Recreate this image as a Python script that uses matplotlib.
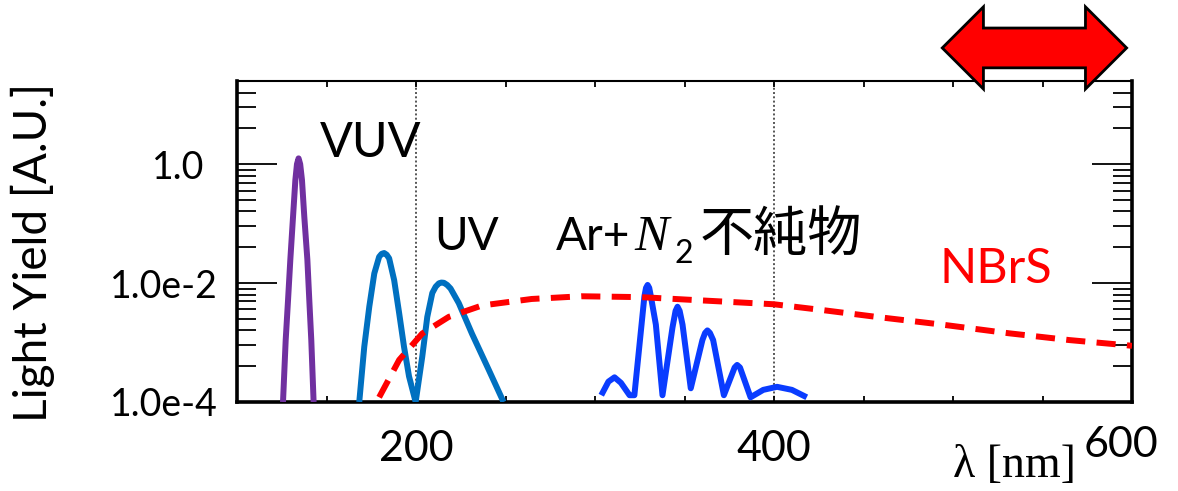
import matplotlib
matplotlib.use('Agg')
import matplotlib.pyplot as plt
from matplotlib.patches import Polygon
from matplotlib.ticker import NullFormatter

W, H = 1178, 491

plt.rcParams['font.family'] = ['Lato', 'Noto Sans CJK JP', 'DejaVu Sans']

# Emission spectra (wavelength in nm, light yield in arbitrary units)
VUV_NM = [125.7, 127.2, 128.5, 129.8, 131.3, 132.6, 133.5, 134.4, 135.3,
          136.3, 137.6, 139.3, 140.4, 141.5, 142.8]
VUV_Y = [1e-4, 1.1e-3, 5.1e-3, 0.025, 0.13, 0.54, 1.0, 1.25, 1.0,
         0.54, 0.13, 0.025, 5.1e-3, 1.1e-3, 1e-4]

UV_NM = [168.3, 171.1, 173.9, 176.7, 179.4, 180.8, 182.2, 183.6, 185.0,
         187.8, 190.6, 193.3, 196.1, 199.8, 203.5, 206.3, 209.1, 211.0,
         212.8, 214.2, 215.6, 217.4, 219.3, 223.9, 231.3, 240.6, 248.9]
UV_Y = [1e-4, 8.5e-4, 4.0e-3, 0.0145, 0.0276, 0.031, 0.032, 0.030, 0.026,
        0.0112, 3.1e-3, 8.5e-4, 2.7e-4, 1.0e-4, 5.8e-4, 2.7e-3, 6.8e-3,
        8.7e-3, 9.9e-3, 0.0102, 0.0101, 9.3e-3, 8.1e-3, 4.6e-3, 1.4e-3,
        3.5e-4, 1e-4]

ARN2_NM = [303.5, 307.5, 310.9, 314.5, 319.3, 322.0, 326.0, 327.6, 328.5,
           329.4, 330.3, 331.2, 334.0, 337.7, 343.3, 345.0, 346.1, 347.3,
           348.9, 353.5, 360.0, 361.5, 362.8, 364.2, 366.0, 372.0, 378.0,
           379.4, 381.0, 386.9, 394.0, 401.7, 410.0, 418.3]
ARN2_Y = [1.3e-4, 2.2e-4, 2.6e-4, 2.1e-4, 1.3e-4, 1.3e-4, 2.0e-3, 6.0e-3,
          8.3e-3, 9.3e-3, 8.3e-3, 6.0e-3, 2.0e-3, 1.3e-4, 1.8e-3, 3.4e-3,
          4.0e-3, 3.4e-3, 2.0e-3, 1.7e-4, 1.1e-3, 1.45e-3, 1.6e-3, 1.45e-3,
          1.1e-3, 1.3e-4, 3.8e-4, 4.2e-4, 3.8e-4, 1.2e-4, 1.6e-4, 1.8e-4,
          1.6e-4, 1.2e-4]

NBRS_NM = [179.4, 190.6, 203.5, 218.3, 236.9, 264.6, 292.4, 325.7, 360.0,
           400.0, 427.6, 457.2, 494.0, 531.3, 565.0, 597.0, 600.0]
NBRS_Y = [1.2e-4, 5.1e-4, 1.42e-3, 2.7e-3, 4.2e-3, 5.4e-3, 6.0e-3, 5.8e-3,
          5.1e-3, 4.4e-3, 3.5e-3, 2.7e-3, 2.0e-3, 1.43e-3, 1.1e-3, 9.0e-4,
          8.8e-4]

# Wavelength band marked by the double arrow above the plot
BAND_NM = (494, 597)

Y_MAJOR = [1e-4, 1e-2, 1.0]
Y_MAJOR_LABELS = ['1.0e-4', '1.0e-2', '1.0']
Y_MINOR = [4e-4, 9e-4, 1.6e-3, 2.5e-3, 3.6e-3, 4.9e-3, 6.4e-3, 8.1e-3,
           0.04, 0.09, 0.16, 0.25, 0.36, 0.49, 0.64, 0.81, 4, 9, 16]
X_MAJOR = [200, 400]
X_MINOR = [150, 250, 300, 350, 450, 500, 550]

C_VUV = '#7030a0'
C_UV = '#0070c0'
C_ARN2 = '#0a3cff'
C_NBRS = '#ff0000'
LW = 4.3


def px(x, y):
    return x / W, 1 - y / H


fig = plt.figure(figsize=(W / 100, H / 100), dpi=100)
fig.patch.set_facecolor('white')
ax = fig.add_axes([237 / W, 1 - 402 / H, (1132 - 237) / W, (402 - 81) / H])
ax.set_yscale('log')
ax.set_xlim(100, 600)
ax.set_ylim(1e-4, 25)

for xg in X_MAJOR:
    ax.axvline(xg, color='#555555', lw=1.4, ls=(0, (1, 1.2)), zorder=1)

for xs, ys, c in ((VUV_NM, VUV_Y, C_VUV), (UV_NM, UV_Y, C_UV),
                  (ARN2_NM, ARN2_Y, C_ARN2)):
    ax.plot(xs, ys, color=c, lw=LW, solid_joinstyle='round',
            solid_capstyle='butt', zorder=3)
ax.plot(NBRS_NM, NBRS_Y, color=C_NBRS, lw=LW, ls=(0, (3.2, 1.9)), zorder=4)

# axis styling: inward ticks on all four sides
for side in ('left', 'right', 'bottom'):
    ax.spines[side].set_linewidth(2.6)
ax.spines['top'].set_linewidth(1.5)
ax.set_yticks(Y_MAJOR, labels=Y_MAJOR_LABELS)
ax.set_yticks(Y_MINOR, minor=True)
ax.yaxis.set_minor_formatter(NullFormatter())
ax.set_xticks(X_MAJOR, labels=[str(v) for v in X_MAJOR])
ax.set_xticks(X_MINOR, minor=True)
ax.tick_params(axis='y', which='major', direction='in', length=29, width=1.3,
               left=True, right=True, labelsize=27, pad=14)
ax.tick_params(axis='y', which='minor', direction='in', length=14, width=1.3,
               left=True, right=True)
ax.tick_params(axis='x', which='both', direction='in', length=4, width=1.3,
               top=True, bottom=True, labelsize=31, pad=20)
# the top label sits a little further from the frame than the other two
ax.get_yticklabels()[2].set_x(-0.015)

fig.text(*px(33, 252), 'Light Yield [A.U.]', rotation=90, fontsize=33,
         ha='center', va='center')
fig.text(*px(1121, 457), '600', fontsize=31, ha='center', va='baseline')
fig.text(*px(953, 477), 'λ [nm]', fontsize=33, family='Liberation Serif',
         ha='left', va='baseline')

# labels for each emission component
fig.text(*px(320, 157), 'VUV', fontsize=35, ha='left', va='baseline')
fig.text(*px(434, 250), 'UV', fontsize=33, ha='left', va='baseline')
fig.text(*px(556, 250), 'Ar+', fontsize=33, ha='left', va='baseline')
fig.text(*px(634, 250), 'N', fontsize=37, family='Liberation Serif',
         style='italic', ha='left', va='baseline')
fig.text(*px(675, 263), '2', fontsize=23, ha='left', va='baseline')
fig.text(*px(700, 251), '不純物', fontsize=39, family='Noto Sans CJK JP',
         ha='left', va='baseline')
fig.text(*px(939, 283), 'NBrS', fontsize=35, color=C_NBRS, ha='left',
         va='baseline')

# double arrow spanning the band, drawn above the axes frame
x0, x1 = BAND_NM
head = 23
yc, hh, sh = 1.103, 0.128, 0.062
arrow = Polygon([(x0, yc), (x0 + head, yc + hh), (x0 + head, yc + sh),
                 (x1 - head, yc + sh), (x1 - head, yc + hh), (x1, yc),
                 (x1 - head, yc - hh), (x1 - head, yc - sh),
                 (x0 + head, yc - sh), (x0 + head, yc - hh)],
                closed=True, facecolor='#ff0000', edgecolor='black', lw=2,
                transform=ax.get_xaxis_transform(), clip_on=False, zorder=6)
ax.add_patch(arrow)

fig.savefig('out.png', dpi=100, facecolor='white')
